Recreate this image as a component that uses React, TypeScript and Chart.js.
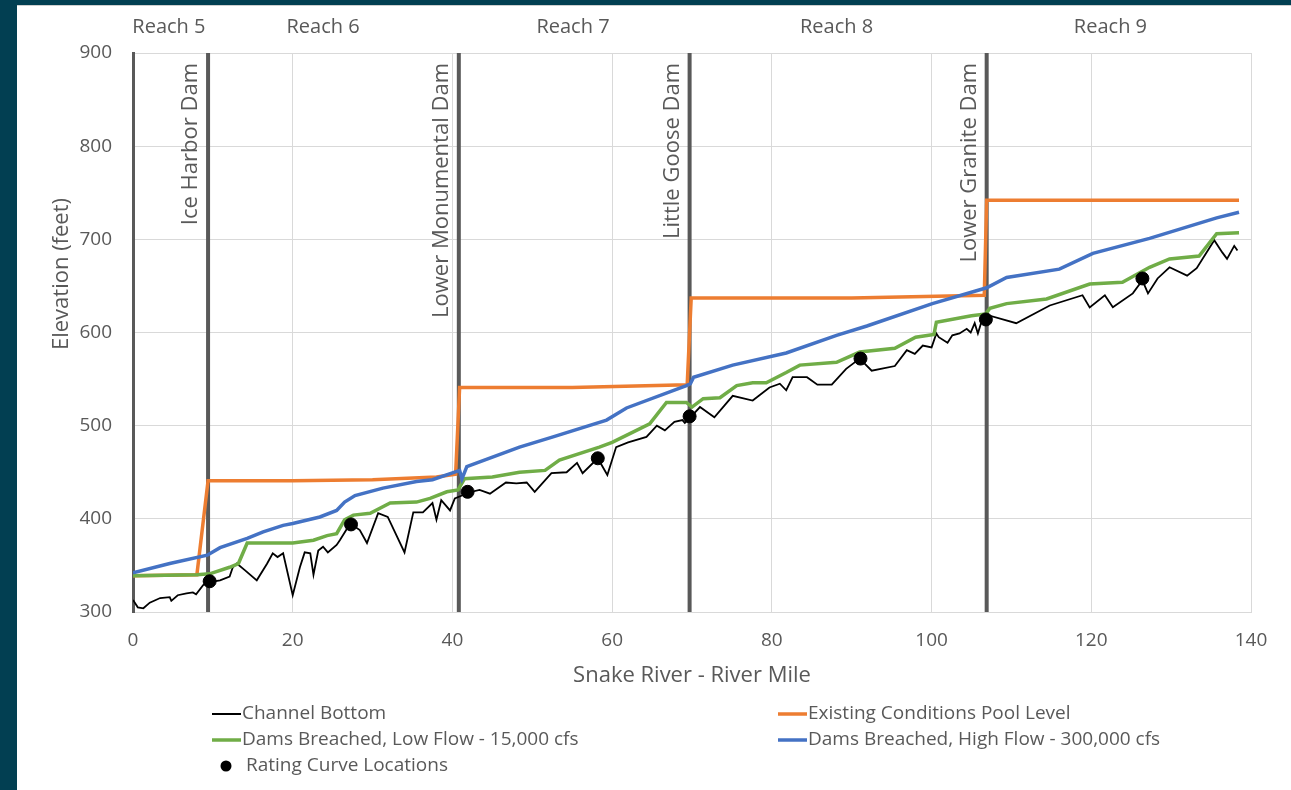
import { useEffect, useRef } from "react";
import { Chart, registerables } from "chart.js";

Chart.register(...registerables);

const FONT = "'Open Sans', 'Noto Sans', sans-serif";
const TEXT = "#595959";

// [river mile, elevation ft]
const channelBottom: [number, number][] = [
  [0, 313], [0.6, 305], [1.3, 304], [2.1, 310], [3.4, 315], [4.6, 316], [4.8, 312], [5.6, 318],
  [6.7, 320], [7.5, 321], [7.9, 319], [8.8, 329], [9.6, 332], [10.9, 334], [12.1, 338], [12.5, 348],
  [13, 352], [14, 345], [15.5, 334], [16.8, 352], [17.5, 363], [18.1, 359], [18.8, 363], [20, 318],
  [20.9, 348], [21.5, 364], [22.2, 363], [22.6, 340], [23.2, 366], [23.8, 370], [24.4, 364], [25.5, 372],
  [25.9, 377], [27.2, 395], [28.4, 388], [29.3, 374], [30.7, 406], [31.9, 402], [34, 364], [35.1, 407],
  [36.3, 407], [37.5, 417], [38, 399], [38.6, 420], [39.7, 409], [40.3, 422], [41.2, 425], [41.9, 428],
  [43.4, 431], [44.7, 427], [46.7, 439], [48, 438], [49.3, 439], [50.3, 429], [52.4, 449], [54.3, 450],
  [55.6, 460], [56.3, 449], [58.2, 465], [59.4, 447], [60.5, 477], [62, 482], [64.3, 488], [65.6, 500],
  [66.6, 495], [67.8, 504], [68.8, 506], [69.1, 503], [69.8, 509], [71, 520], [72.8, 509], [75.1, 532],
  [77.6, 527], [79.7, 541], [81, 545], [81.8, 538], [82.6, 552], [84.4, 552], [85.7, 544], [87.5, 544],
  [89.3, 561], [91, 572], [92.5, 559], [95.4, 564], [96.9, 581], [97.9, 577], [98.9, 586], [100, 584],
  [100.6, 599], [100.9, 595], [102, 589], [102.6, 597], [103.5, 599], [104.4, 604], [104.9, 600],
  [105.4, 610], [105.8, 599], [106.3, 613], [106.9, 613], [107.3, 618], [110.6, 610], [114.8, 629],
  [118.9, 640], [119.8, 627], [121.7, 640], [122.7, 627], [125.2, 642], [126.4, 656], [127.1, 642],
  [128.3, 658], [129.8, 670], [132, 661], [133.2, 669], [135.4, 699], [136.4, 686], [137, 679],
  [137.9, 693], [138.3, 688],
];

const poolLevel: [number, number][] = [
  [0, 339], [8, 340], [9.4, 441], [20, 441], [30, 442], [38, 445], [40.4, 448], [40.9, 541],
  [55, 541], [69.4, 544], [69.9, 637], [90, 637], [106.6, 640], [106.9, 742], [138.5, 742],
];

const lowFlow: [number, number][] = [
  [0, 339], [8, 340], [9.6, 341], [12.1, 348], [13.2, 352], [14.3, 374], [20, 374], [22.6, 377],
  [24.3, 382], [25.5, 384], [26.5, 399], [27.6, 404], [29.7, 406], [32.2, 417], [35.5, 418], [37.2, 422],
  [39.3, 429], [40.7, 431], [41.5, 443], [45, 445], [48.4, 450], [51.6, 452], [53.4, 463], [58.4, 477],
  [60, 482], [62.6, 493], [64.7, 502], [66.8, 525], [69.3, 525], [70, 520], [71.4, 529], [73.5, 530],
  [75.6, 543], [77.6, 546], [79.3, 546], [81.8, 557], [83.5, 565], [88.1, 568], [91, 579], [95.4, 583],
  [98, 595], [100.3, 598], [100.6, 611], [105, 618], [106.8, 620], [107.3, 626], [109.4, 631],
  [114.4, 636], [119.8, 652], [123.9, 654], [127.3, 670], [129.8, 679], [133.5, 682], [135.7, 706],
  [138.5, 707],
];

const highFlow: [number, number][] = [
  [0, 342], [4.6, 352], [9.3, 361], [10.9, 369], [14.3, 379], [16.3, 386], [18.8, 393], [20, 395],
  [23.4, 402], [25.5, 409], [26.5, 418], [27.8, 425], [31.3, 433], [35.5, 440], [37.5, 442], [40.9, 452],
  [41.2, 443], [41.8, 456], [48.4, 477], [52.6, 488], [59.3, 506], [61.8, 519], [69.3, 543], [69.8, 545],
  [70.2, 552], [75.1, 565], [81.8, 578], [88.1, 597], [91.9, 607], [100.1, 631], [106.9, 648],
  [109.4, 659], [116, 668], [120.2, 685], [127.3, 701], [135.7, 723], [138.5, 729],
];

const ratingCurves: [number, number][] = [
  [9.6, 333], [27.3, 394], [41.9, 429], [58.2, 465], [69.7, 510], [91.1, 572], [106.8, 614], [126.4, 658],
];

const damNames = ["Ice Harbor Dam", "Lower Monumental Dam", "Little Goose Dam", "Lower Granite Dam"];
const damMiles = [9.4, 40.8, 69.7, 106.9];

const reachNames = ["Reach 5", "Reach 6", "Reach 7", "Reach 8", "Reach 9"];
const reachMiles = [4.5, 23.8, 55.1, 88.1, 122.4];

const xMin = 0, xMax = 140, xStep = 20;
const yMin = 300, yMax = 900, yStep = 100;

const seriesNames = [
  "Channel Bottom",
  "Existing Conditions Pool Level",
  "Dams Breached, Low Flow - 15,000 cfs",
  "Dams Breached, High Flow - 300,000 cfs",
  "Rating Curve Locations",
];
const seriesColors = ["#000000", "#ED7D31", "#70AD47", "#4472C4", "#000000"];

const toPts = (a: [number, number][]) => a.map(([x, y]) => ({ x, y }));

const overlay = {
  id: "overlay",
  afterDraw(chart: any) {
    const { ctx, chartArea } = chart;
    const xs = chart.scales.x;
    ctx.save();
    ctx.fillStyle = TEXT;
    // reach labels
    ctx.font = `20px ${FONT}`;
    ctx.textAlign = "center";
    ctx.textBaseline = "middle";
    reachNames.forEach((t, i) => ctx.fillText(t, xs.getPixelForValue(reachMiles[i]), 21));
    // dam labels
    ctx.font = `22px ${FONT}`;
    damNames.forEach((t, i) => {
      const px = xs.getPixelForValue(damMiles[i]) - 17;
      ctx.save();
      ctx.translate(px, chartArea.top + 10);
      ctx.rotate(-Math.PI / 2);
      ctx.textAlign = "right";
      ctx.textBaseline = "middle";
      ctx.fillText(t, 0, 0);
      ctx.restore();
    });
    // y axis title
    ctx.save();
    ctx.font = `22px ${FONT}`;
    ctx.translate(45, 268);
    ctx.rotate(-Math.PI / 2);
    ctx.textAlign = "center";
    ctx.textBaseline = "middle";
    ctx.fillText("Elevation (feet)", 0, 0);
    ctx.restore();

    // legend
    ctx.font = `19px ${FONT}`;
    ctx.textAlign = "left";
    ctx.textBaseline = "middle";
    const items = [
      { i: 0, x: 195, y: 708 },
      { i: 1, x: 761, y: 708 },
      { i: 2, x: 195, y: 734 },
      { i: 3, x: 761, y: 734 },
    ];
    items.forEach(({ i, x, y }) => {
      ctx.strokeStyle = seriesColors[i];
      ctx.lineWidth = i === 0 ? 2 : 3.5;
      ctx.beginPath();
      ctx.moveTo(x, y);
      ctx.lineTo(x + 29, y);
      ctx.stroke();
      ctx.fillStyle = TEXT;
      ctx.fillText(seriesNames[i], x + 30, y);
    });
    ctx.fillStyle = "#000";
    ctx.beginPath();
    ctx.arc(209, 760, 5.5, 0, Math.PI * 2);
    ctx.fill();
    ctx.fillStyle = TEXT;
    ctx.fillText(seriesNames[4], 229, 760);
    ctx.restore();
  },
};

export default function App() {
  const ref = useRef<HTMLCanvasElement>(null);
  useEffect(() => {
    if (!ref.current) return;
    const damSets = damMiles.map((m) => ({
      label: "dam",
      data: [{ x: m, y: yMin }, { x: m, y: yMax }],
      borderColor: "#595959",
      borderWidth: 4,
      pointRadius: 0,
      showLine: true,
      order: 6,
    }));
    const chart = new Chart(ref.current, {
      type: "scatter",
      data: {
        datasets: [
          { label: seriesNames[4], data: toPts(ratingCurves), backgroundColor: "#000", borderColor: "#000", pointRadius: 6.5, showLine: false, order: 0 },
          { label: seriesNames[3], data: toPts(highFlow), borderColor: seriesColors[3], borderWidth: 3.5, pointRadius: 0, showLine: true, order: 1 },
          { label: seriesNames[2], data: toPts(lowFlow), borderColor: seriesColors[2], borderWidth: 3.5, pointRadius: 0, showLine: true, order: 2 },
          { label: seriesNames[1], data: toPts(poolLevel), borderColor: seriesColors[1], borderWidth: 3.5, pointRadius: 0, showLine: true, order: 3 },
          { label: seriesNames[0], data: toPts(channelBottom), borderColor: seriesColors[0], borderWidth: 1.8, pointRadius: 0, showLine: true, order: 4 },
          ...damSets,
        ] as any,
      },
      options: {
        animation: false,
        responsive: false,
        layout: { padding: { top: 47, right: 40, bottom: 100, left: 0 } },
        plugins: { legend: { display: false }, tooltip: { enabled: false } },
        scales: {
          x: {
            type: "linear",
            min: xMin,
            max: xMax,
            ticks: { stepSize: xStep, color: TEXT, font: { family: FONT, size: 19 }, padding: 17 },
            grid: { color: "#D9D9D9", lineWidth: 1, drawTicks: false },
            border: { color: "#D9D9D9", width: 1 },
            title: { display: true, text: "Snake River - River Mile", color: TEXT, font: { family: FONT, size: 22 }, padding: { top: 0, bottom: 1 } },
            afterFit: (s: any) => { s.height = 78; },
          },
          y: {
            type: "linear",
            min: yMin,
            max: yMax,
            ticks: { stepSize: yStep, color: TEXT, font: { family: FONT, size: 19 }, padding: 21 },
            grid: { color: "#D9D9D9", lineWidth: 1, drawTicks: false },
            border: { color: "#595959", width: 3 },
            afterFit: (s: any) => { s.width = 116; },
          },
        },
      },
      plugins: [overlay],
    });
    return () => chart.destroy();
  }, []);
  return (
    <div style={{ position: "fixed", left: 0, top: 0, width: 1291, height: 790, background: "#023F52", overflow: "hidden" }}>
      <div style={{ position: "absolute", left: 17, top: 5, width: 1274, height: 785, background: "#fff", borderTop: "1px solid #cfcfcf", boxSizing: "border-box" }}>
        <canvas ref={ref} width={1274} height={784} style={{ display: "block" }} />
      </div>
    </div>
  );
}
